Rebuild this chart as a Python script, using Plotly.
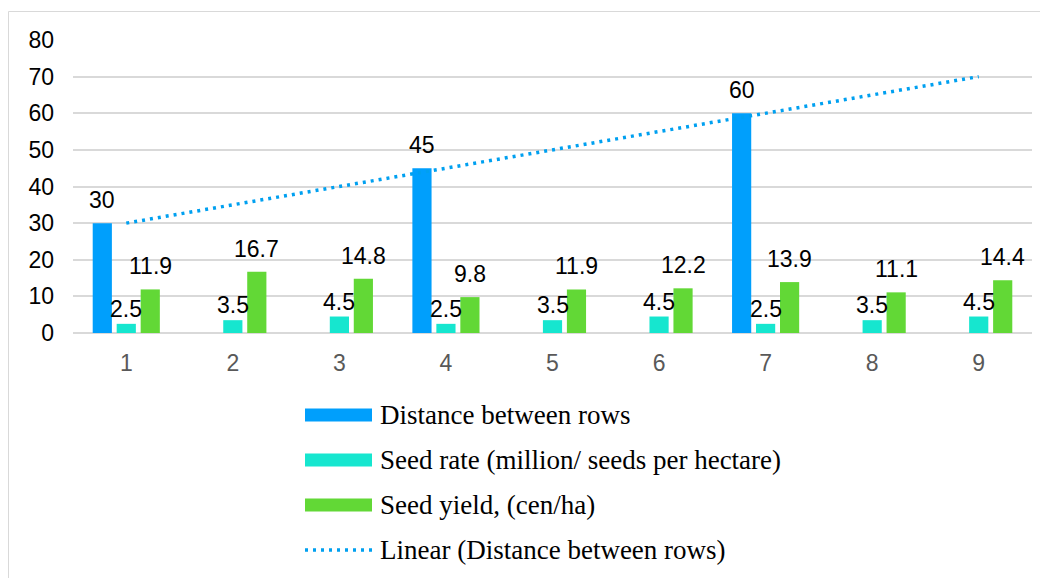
import numpy as np
import plotly.graph_objects as go

categories = ["1", "2", "3", "4", "5", "6", "7", "8", "9"]
distance_between_rows = [30, None, None, 45, None, None, 60, None, None]
seed_rate = [2.5, 3.5, 4.5, 2.5, 3.5, 4.5, 2.5, 3.5, 4.5]
seed_yield = [11.9, 16.7, 14.8, 9.8, 11.9, 12.2, 13.9, 11.1, 14.4]

names = ["Distance between rows", "Seed rate (million/ seeds per hectare)",
         "Seed yield, (cen/ha)", "Linear (Distance between rows)"]
colors = ["#009FFC", "#16E6CF", "#62D836"]
trend_color = "#00A0F0"

OFF = 8  # page body margin
W, H = 1040, 570
ML, MT = 73 - OFF, 40 - OFF
PW, PH = 959, 293
MR, MB = W - ML - PW, H - MT - PH
BARGAP = 0.325


def px_x(px):
    return (px - OFF - ML) / PW


def px_y(py):
    return (MT + PH - (py - OFF)) / PH


fig = go.Figure()
series = [distance_between_rows, seed_rate, seed_yield]
for name, vals, col in zip(names[:3], series, colors):
    fig.add_trace(go.Bar(x=categories, y=vals, name=name, marker_color=col,
                         marker_line_width=0, showlegend=False, hoverinfo="y"))

# linear trend of distance between rows
idx = np.array([i for i, v in enumerate(distance_between_rows) if v is not None], float)
vals = np.array([v for v in distance_between_rows if v is not None], float)
slope, intercept = np.polyfit(idx, vals, 1)
trend = [slope * i + intercept for i in range(len(categories))]
fig.add_trace(go.Scatter(x=categories, y=trend, mode="lines", showlegend=False,
                         line=dict(color=trend_color, width=3.5, dash="3px,5px"),
                         hoverinfo="skip"))

# data labels
slot = (1 - BARGAP) / 3
shifts = [23, 15, 23]
annotations = []
for k, (vals_k, sh) in enumerate(zip(series, shifts)):
    for i, v in enumerate(vals_k):
        if v is None:
            continue
        annotations.append(dict(x=i + (k - 1) * slot, y=v, xref="x", yref="y",
                                text=f"{v:g}", showarrow=False, yshift=sh,
                                font=dict(family="Liberation Sans, Arial", size=23, color="#000000")))

# manual legend
legend_rows = [415, 460, 505, 550]
shapes = []
for r, (name, py) in enumerate(zip(names, legend_rows)):
    if r < 3:
        shapes.append(dict(type="rect", xref="paper", yref="paper",
                           x0=px_x(305), x1=px_x(372), y0=px_y(py + 6.5), y1=px_y(py - 6.5),
                           fillcolor=colors[r], line_width=0))
    else:
        shapes.append(dict(type="line", xref="paper", yref="paper",
                           x0=px_x(305), x1=px_x(372), y0=px_y(py), y1=px_y(py),
                           line=dict(color=trend_color, width=3.5, dash="3px,5px")))
    annotations.append(dict(x=px_x(378), y=px_y(py), xref="paper", yref="paper",
                            xanchor="left", yanchor="middle", text=name, showarrow=False,
                            font=dict(family="Liberation Serif, Times New Roman", size=27,
                                      color="#000000")))

# outer chart border
shapes.append(dict(type="rect", xref="paper", yref="paper",
                   x0=px_x(8.5), x1=px_x(1060), y0=px_y(600), y1=px_y(11.5),
                   line=dict(color="#D9D9D9", width=1), fillcolor="rgba(0,0,0,0)",
                   layer="below"))

fig.update_layout(
    width=W, height=H,
    margin=dict(l=ML, r=MR, t=MT, b=MB, pad=0),
    paper_bgcolor="white", plot_bgcolor="white",
    barmode="group", bargap=BARGAP, bargroupgap=0.2,
    shapes=shapes, annotations=annotations,
    font=dict(family="Liberation Sans, Arial", size=23, color="#000000"),
    xaxis=dict(type="category", range=[-0.5, 8.5], showgrid=False, showline=False,
               ticks="", tickfont=dict(color="#595959", size=23), ticklabelstandoff=14,
               fixedrange=True),
    yaxis=dict(range=[0, 80], dtick=10, showgrid=True, gridcolor="#D9D9D9", gridwidth=1.5,
               zeroline=True, zerolinecolor="#D9D9D9", zerolinewidth=1.5, showline=False,
               ticks="", tickfont=dict(color="#000000", size=23), ticklabelstandoff=18,
               fixedrange=True),
)

fig.write_html("out.html")
